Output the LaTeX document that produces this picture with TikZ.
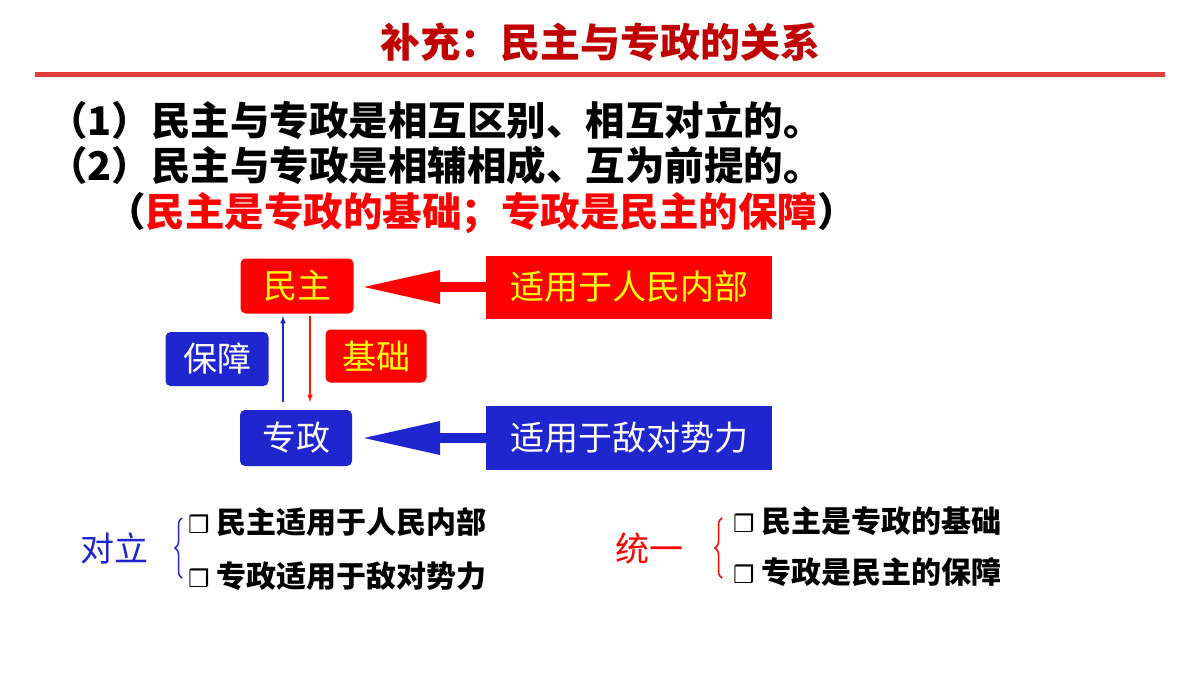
\documentclass[tikz,border=0pt]{standalone}
\usepackage{fontspec}
\setmainfont{Noto Sans CJK SC}
\newfontfamily\symfont{DejaVu Sans}
\usetikzlibrary{decorations.pathreplacing}
\definecolor{darkred}{RGB}{192,0,0}
\definecolor{boxred}{RGB}{255,0,0}
\definecolor{boxblue}{RGB}{32,38,205}
\definecolor{ruleline}{RGB}{225,60,60}
\definecolor{txtyellow}{RGB}{255,255,0}
\tikzset{
  roundbox/.style={rounded corners=5pt, inner sep=0pt, font=\fontsize{34}{34}\selectfont},
  widebox/.style={inner sep=0pt, font=\fontsize{34}{34}\selectfont},
  bigarrow/.style={line width=10pt},
  stmt/.style={anchor=west, inner sep=0pt, font=\fontsize{39.5}{39.5}\selectfont\bfseries},
  itemtext/.style={anchor=west, inner sep=0pt, font=\fontsize{30}{30}\selectfont\bfseries},
}
\newcommand{\chkbox}{{\symfont\bfseries\fontsize{24}{24}\selectfont ❒}\ }
\begin{document}
\begin{tikzpicture}[x=1pt, y=-1pt]
  \useasboundingbox (0,0) rectangle (1200,675);

  % title and rule
  \node[text=darkred, font=\fontsize{40}{40}\selectfont\bfseries] (title) at (600,42) {补充：民主与专政的关系};
  \draw[ruleline, line width=5pt] (35,74) -- (1165,74);

  % statements
  \node[stmt] (stmtA) at (48,120) {（1）民主与专政是相互区别、相互对立的。};
  \node[stmt] (stmtB) at (48,165) {（2）民主与专政是相辅相成、互为前提的。};
  \node[stmt] (stmtC) at (106,213) {（\textcolor{boxred}{民主是专政的基础；专政是民主的保障}）};

  % central boxes
  \node[roundbox, fill=boxred, text=txtyellow, minimum width=113pt, minimum height=55pt] (minzhu) at (297,286) {民主};
  \node[roundbox, fill=boxblue, text=white, minimum width=112pt, minimum height=56pt] (zhuanzheng) at (296,438) {专政};
  \node[roundbox, fill=boxblue, text=white, minimum width=103pt, minimum height=54pt] (baozhang) at (217,359) {保障};
  \node[roundbox, fill=boxred, text=txtyellow, minimum width=101pt, minimum height=53pt] (jichu) at (376,356) {基础};

  % side boxes
  \node[widebox, fill=boxred, text=txtyellow, minimum width=286pt, minimum height=63pt] (people) at (629,287) {适用于人民内部};
  \node[widebox, fill=boxblue, text=white, minimum width=286pt, minimum height=64pt] (enemy) at (629,438) {适用于敌对势力};

  % big arrows
  \coordinate (peopletip) at (364,287);
  \coordinate (enemytip) at (364,438);
  \draw[boxred, bigarrow] (people.west) -- (430,287);
  \fill[boxred] (peopletip) -- (440,270) -- (440,304) -- cycle;
  \draw[boxblue, bigarrow] (enemy.west) -- (430,438);
  \fill[boxblue] (enemytip) -- (440,421) -- (440,455) -- cycle;

  % thin arrows
  \draw[boxblue, line width=1.5pt, -latex] (283,402) -- (283,316);
  \draw[red!80!orange, line width=1.5pt, -latex] (310,316) -- (310,402);

  % opposition
  \node[text=boxblue, font=\fontsize{34}{34}\selectfont] (duili) at (114,548) {对立};
  \draw[boxblue, line width=1.5pt, decorate, decoration={brace, amplitude=7pt}] (182,578) -- (182,518);
  \node[itemtext] (duiA) at (188,522) {\chkbox 民主适用于人民内部};
  \node[itemtext] (duiB) at (188,576) {\chkbox 专政适用于敌对势力};

  % unity
  \node[text=boxred, font=\fontsize{34}{34}\selectfont] (tongyi) at (649,548) {统一};
  \draw[boxred, line width=1.5pt, decorate, decoration={brace, amplitude=7pt}] (722,578) -- (722,518);
  \node[itemtext] (tongA) at (733,521) {\chkbox 民主是专政的基础};
  \node[itemtext] (tongB) at (733,572) {\chkbox 专政是民主的保障};
\end{tikzpicture}
\end{document}
